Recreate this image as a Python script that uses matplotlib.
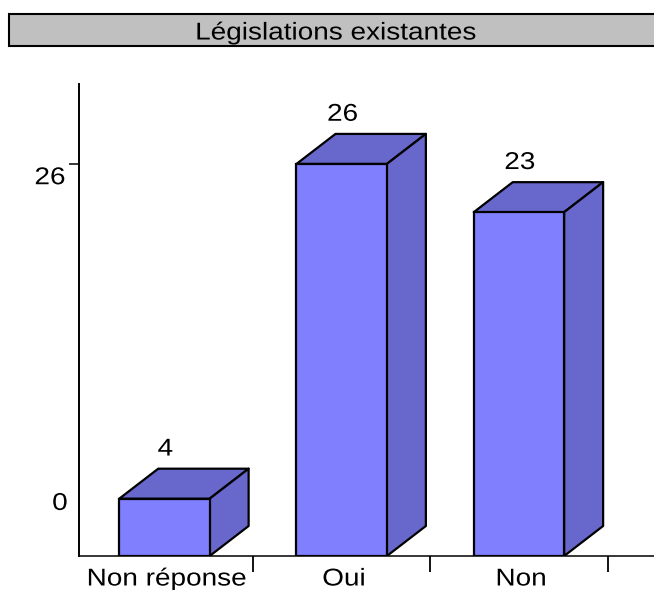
import numpy as np
import matplotlib
matplotlib.use('Agg')
import matplotlib.pyplot as plt
from matplotlib.patches import Rectangle
from matplotlib.patheffects import AbstractPathEffect
from matplotlib.transforms import Affine2D

plt.rcParams['font.family'] = ['Liberation Sans', 'DejaVu Sans']

title = 'Législations existantes'
categories = ['Non réponse', 'Oui', 'Non']
# bar heights, the printed labels are rounded
heights = [3.8, 26, 22.8]
value_labels = ['4', '26', '23']
y_ticks = [26]

W, H = 654, 590
FONT = 17.5
front_color = '#8080FF'
shade_color = '#6868CC'


class StretchX(AbstractPathEffect):
    # the original text is wider than any installed font, widen it about its centre
    def __init__(self, factor):
        super().__init__()
        self.factor = factor

    def draw_path(self, renderer, gc, tpath, affine, rgbFace=None):
        box = tpath.get_extents()
        cx = (box.x0 + box.x1) / 2
        wide = Affine2D().translate(-cx, 0).scale(self.factor, 1).translate(cx, 0)
        renderer.draw_path(gc, tpath, wide + affine, rgbFace)


wide_text = [StretchX(1.15)]

fig = plt.figure(figsize=(W / 100, H / 100), dpi=100)
fig.patch.set_facecolor('white')

# title banner
fig.add_artist(Rectangle((9 / W, 1 - 46 / H), 660 / W, 32 / H, transform=fig.transFigure,
                         facecolor='#C0C0C0', edgecolor='black', linewidth=1.5))
fig.text(335.5 / W, 1 - 33.5 / H, title, ha='center', va='center', fontsize=FONT, color='black',
         path_effects=wide_text)

ax = fig.add_axes([79 / W, 1 - 556 / H, (W - 79) / W, (556 - 84) / H])
ax.set_xlim(-0.482, 2.762)
ax.set_ylim(0, 31.3)
for side in ['top', 'right']:
    ax.spines[side].set_visible(False)
ax.spines['left'].set_linewidth(1.4)
ax.spines['bottom'].set_linewidth(1.1)

width = 0.51
dx = 0.22
dy = 1.99

for i, h in enumerate(heights):
    x0 = i - width / 2
    x1 = i + width / 2
    # top and side faces, then the front one
    ax.fill([x0, x0 + dx, x1 + dx, x1], [h, h + dy, h + dy, h],
            facecolor=shade_color, edgecolor='black', linewidth=1.6, joinstyle='round', zorder=3)
    ax.fill([x1, x1 + dx, x1 + dx, x1], [0, dy, h + dy, h],
            facecolor=shade_color, edgecolor='black', linewidth=1.6, joinstyle='round', zorder=3)
    ax.bar(i, h, width=width, color=front_color, edgecolor='black', linewidth=1.6, zorder=4)
    ax.text(i + 0.005, h + dy + 1.27, value_labels[i], ha='center', va='center', fontsize=FONT,
            path_effects=wide_text)

# ticks sit between the categories, labels on hidden minor ticks
ax.set_xticks(np.arange(len(categories)) + 0.5)
ax.set_xticklabels([])
ax.tick_params(axis='x', which='major', length=11.5, width=1.3)
ax.set_xticks(np.arange(len(categories)) + 0.012, minor=True)
ax.set_xticklabels(categories, minor=True, fontsize=FONT, path_effects=wide_text)
ax.tick_params(axis='x', which='minor', length=0, pad=9)

ax.set_yticks(y_ticks)
ax.set_yticklabels([])
ax.tick_params(axis='y', length=7, width=1.1)

# y labels are offset from their ticks in the original
ax.annotate('26', xy=(0, 26), xycoords=('axes fraction', 'data'), xytext=(-20.9, -10.3),
            textcoords='offset points', ha='center', va='center', fontsize=FONT,
            path_effects=wide_text)
ax.annotate('0', xy=(0, 0), xycoords=('axes fraction', 'data'), xytext=(-13.7, 37.5),
            textcoords='offset points', ha='center', va='center', fontsize=FONT,
            path_effects=wide_text)

fig.savefig('out.png', dpi=100)
